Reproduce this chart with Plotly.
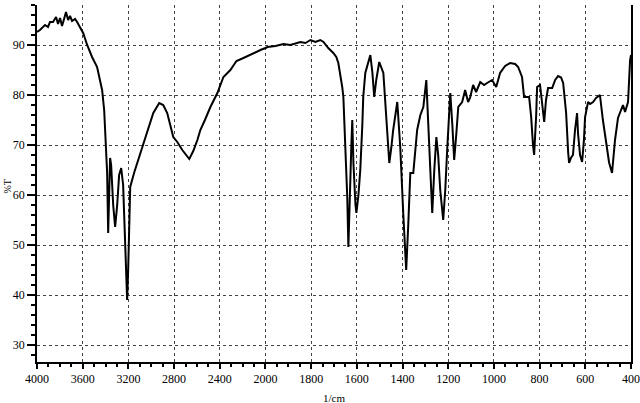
import numpy as np
import plotly.graph_objects as go

# IR spectrum: wavenumber (1/cm) and transmittance (%T)
wavenumber = [
    4000, 3974, 3930, 3904, 3886, 3860, 3833, 3816, 3798, 3781, 3763, 3746, 3728, 3711,
    3693, 3667, 3649, 3623, 3596, 3561, 3518, 3474, 3430, 3412, 3404, 3386, 3377, 3368,
    3360, 3351, 3333, 3316, 3298, 3281, 3263, 3246, 3228, 3211, 3202, 3193, 3184, 3149,
    3096, 3035, 2982, 2930, 2895, 2860, 2807, 2772, 2728, 2667, 2632, 2596, 2570, 2530,
    2482, 2421, 2395, 2368, 2307, 2254, 2193, 2105, 2044, 2000,
    1991, 1956, 1921, 1891, 1847, 1825, 1803, 1781, 1760, 1746, 1725, 1703, 1690, 1681,
    1672, 1664, 1659, 1655, 1650, 1642, 1637, 1633, 1624, 1620, 1615, 1606, 1602, 1593,
    1585, 1576, 1572, 1563, 1550, 1541, 1532, 1524, 1515, 1502, 1484, 1471, 1458, 1449,
    1441, 1423, 1410, 1397, 1388, 1384, 1375, 1366, 1353, 1344, 1336, 1322, 1309, 1296,
    1287, 1279, 1270, 1261, 1252, 1244, 1235, 1222, 1213, 1204, 1191, 1182, 1174, 1165,
    1156, 1139, 1126, 1113, 1104, 1091, 1078, 1060, 1043, 1030, 1008, 990, 973, 951,
    929, 907, 894, 877, 868, 846, 837, 829, 824, 815, 811, 798, 789, 780, 772, 763,
    745, 732, 719, 706, 697, 689, 684, 675, 671, 662, 654, 645, 636, 632, 623, 614,
    606, 601, 588, 579, 566, 553, 536, 523, 509, 496, 483, 470, 457, 444, 435, 426,
    413, 404, 400,
]
transmittance = [
    92.6, 93.0, 94.0, 93.6, 94.6, 94.6, 95.6, 94.2, 95.4, 93.8, 95.2, 96.6, 95.0, 95.8,
    94.8, 95.2, 94.6, 93.4, 92.4, 90.0, 87.6, 85.6, 81.0, 77.0, 72.4, 64.4, 52.4, 60.0,
    67.4, 66.0, 58.0, 53.6, 58.0, 64.0, 65.4, 62.0, 50.0, 39.0, 45.0, 55.0, 61.6, 64.5,
    68.4, 72.4, 76.4, 78.4, 78.0, 76.4, 71.6, 70.6, 69.0, 67.2, 68.8, 71.0, 73.0, 75.0,
    77.6, 80.4, 82.0, 83.6, 85.0, 86.8, 87.4, 88.4, 89.0, 89.4,
    89.6, 89.8, 90.2, 90.0, 90.6, 90.4, 91.0, 90.6, 91.0, 90.6, 89.4, 88.4, 87.6, 86.4,
    84.0, 81.6, 79.6, 75.0, 71.0, 59.6, 49.6, 58.0, 70.0, 75.0, 66.4, 58.0, 56.4, 60.0,
    65.0, 74.0, 79.6, 84.4, 86.6, 88.0, 84.5, 79.6, 83.0, 86.6, 84.4, 76.4, 66.4, 69.5,
    73.0, 78.6, 69.6, 56.4, 48.0, 45.0, 54.0, 64.4, 64.4, 68.5, 73.0, 76.0, 77.6, 83.0,
    74.4, 65.0, 56.4, 65.0, 71.6, 68.0, 61.0, 55.0, 61.0, 69.6, 80.4, 74.0, 67.0, 72.0,
    77.6, 78.6, 81.0, 78.6, 79.5, 82.0, 80.6, 82.6, 82.0, 82.4, 83.0, 81.6, 84.4, 85.8,
    86.4, 86.2, 85.6, 83.6, 79.6, 79.6, 75.6, 70.0, 68.0, 76.0, 81.6, 82.0, 78.0, 74.6,
    79.0, 81.4, 81.4, 83.0, 83.8, 83.5, 82.4, 79.0, 76.4, 68.5, 66.4, 67.5, 68.0, 73.0,
    76.4, 72.4, 68.0, 66.6, 71.0, 75.6, 78.6, 78.2, 78.6, 79.4, 80.0, 75.0, 70.5, 66.5,
    64.4, 71.0, 75.4, 77.0, 78.0, 76.6, 78.6, 87.0, 88.0,
]
tick_wavenumbers = [4000, 3600, 3200, 2800, 2400, 2000, 1800, 1600, 1400, 1200, 1000, 800, 600, 400]
y_ticks = [30, 40, 50, 60, 70, 80, 90]


# the chart is drawn at double scale below 2000 1/cm
def to_pos(w):
    w = np.asarray(w, dtype=float)
    return np.where(w >= 2000, 4000 - w, 2000 + 2 * (2000 - w))


fig = go.Figure(go.Scatter(
    x=to_pos(wavenumber), y=transmittance, mode="lines",
    line=dict(color="black", width=2), hoverinfo="skip",
))

font = dict(family="Liberation Serif, Times New Roman, serif", size=12, color="black")

fig.update_layout(
    width=640, height=403,
    margin=dict(l=37, r=9, t=5, b=41),
    paper_bgcolor="white", plot_bgcolor="white",
    showlegend=False, font=font,
    xaxis=dict(
        range=[0, 5200], tickmode="array",
        tickvals=to_pos(tick_wavenumbers), ticktext=[str(t) for t in tick_wavenumbers],
        ticks="outside", ticklen=5, tickwidth=2, tickcolor="black",
        showline=True, linecolor="black", linewidth=2,
        showgrid=True, gridcolor="#444", gridwidth=1, griddash="dot",
        zeroline=False, automargin=False,
        minor=dict(tickmode="linear", tick0=0, dtick=100, ticks="outside",
                   ticklen=3, tickwidth=2, tickcolor="black", showgrid=False),
    ),
    yaxis=dict(
        range=[26.6, 98], tickmode="array", tickvals=y_ticks,
        ticks="outside", ticklen=8, tickwidth=2, tickcolor="black",
        showline=True, mirror=True, linecolor="black", linewidth=1.5,
        showgrid=True, gridcolor="#444", gridwidth=1, griddash="dot",
        zeroline=False, automargin=False,
        minor=dict(tickmode="linear", tick0=0, dtick=2, ticks="outside",
                   ticklen=4, tickwidth=1.5, tickcolor="black", showgrid=False),
    ),
    annotations=[
        dict(text="%T", xref="paper", yref="paper", x=0, xshift=-37, y=0.49,
             xanchor="left", yanchor="middle", textangle=-90, showarrow=False,
             font=dict(size=10)),
        dict(text="1/cm", xref="paper", yref="paper", x=0.5, y=0, yshift=-28,
             xanchor="center", yanchor="top", showarrow=False, font=dict(size=11)),
    ],
)

# drop the browser's default body margin so the figure fills the window
fig.write_html("out.html", config={"displayModeBar": False},
               post_script="document.body.style.margin = '0';")
